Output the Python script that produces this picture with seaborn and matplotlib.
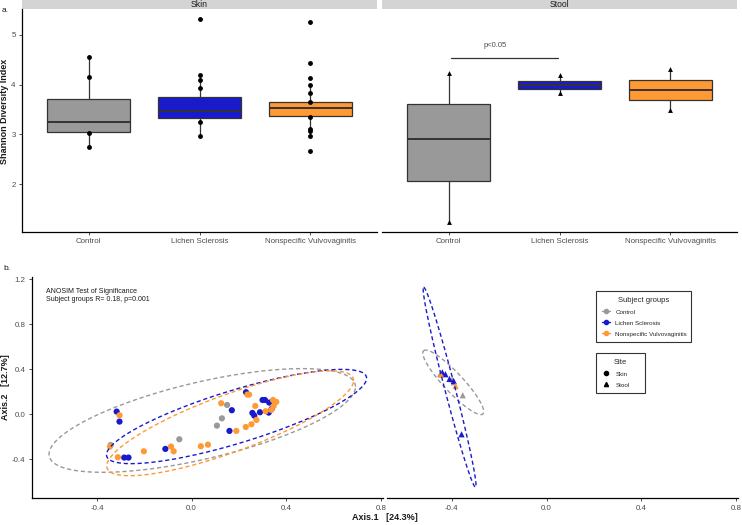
import numpy as np
import pandas as pd
import matplotlib
matplotlib.use('Agg')
import matplotlib.pyplot as plt
from matplotlib.lines import Line2D
from matplotlib.patches import Rectangle
import seaborn as sns

# ------------------ data ------------------
groups = ['Control', 'Lichen Sclerosis', 'Nonspecific Vulvovaginitis']
colors = ['#999999', '#1A1ACD', '#FF9933']
palette = dict(zip(groups, colors))

# panel a: box summaries (whisker low, q1, median, q3, whisker high)
skin_boxes = [[2.75, 3.04, 3.24, 3.72, 4.56],
              [2.97, 3.34, 3.47, 3.76, 4.20],
              [2.96, 3.37, 3.53, 3.65, 4.00]]
stool_boxes = [[1.25, 2.07, 2.91, 3.62, 4.23],
               [3.84, 3.91, 3.99, 4.07, 4.19],
               [3.50, 3.70, 3.90, 4.09, 4.31]]

# visible sample points (Shannon index)
skin_ctrl_pts = [4.56, 4.15, 3.02, 2.75]
skin_ls_pts = [5.32, 4.20, 4.10, 3.94, 3.24, 2.97]
skin_nv_pts = [5.25, 4.43, 4.14, 4.00, 3.83, 3.66, 3.35, 3.10, 3.07, 2.96, 2.67]
stool_ctrl_pts = [4.23, 1.25]
stool_ls_pts = [4.19, 3.84]
stool_nv_pts = [4.31, 3.50]

# panel b: PCoA coordinates, skin samples
skin_ctrl_x = [0.107, 0.128, 0.150, -0.052, -0.342]
skin_ctrl_y = [-0.101, -0.036, 0.083, -0.222, -0.273]
skin_ls_x = [-0.317, -0.305, -0.285, -0.267, -0.111, 0.160, 0.170, 0.230,
             0.257, 0.265, 0.289, 0.300, 0.310, 0.328, 0.326, 0.338]
skin_ls_y = [0.024, -0.065, -0.385, -0.385, -0.308, -0.148, 0.036, 0.196,
             0.012, -0.012, 0.018, 0.127, 0.127, 0.104, 0.015, 0.047]
skin_nv_x = [-0.305, -0.345, -0.312, -0.202, -0.087, -0.076, 0.039, 0.069,
             0.125, 0.189, 0.229, 0.236, 0.243, 0.253, 0.269, 0.274,
             0.313, 0.344, 0.358, 0.347, 0.337]
skin_nv_y = [-0.009, -0.287, -0.382, -0.329, -0.287, -0.329, -0.284, -0.270,
             0.098, -0.148, -0.113, 0.175, 0.175, -0.089, 0.074, -0.050,
             0.027, 0.127, 0.110, 0.074, 0.039]

# stool samples
stool_ctrl_x = [-0.449, -0.392, -0.354, -0.398]
stool_ctrl_y = [0.358, 0.284, 0.169, 0.311]
stool_ls_x = [-0.440, -0.427, -0.410, -0.392, -0.359]
stool_ls_y = [0.373, 0.356, 0.314, 0.296, -0.178]
stool_nv_x = [-0.446, -0.384]
stool_nv_y = [0.352, 0.252]

# 95% ellipses: centre and two conjugate half-diameters
skin_ell_groups = ['Control', 'Lichen Sclerosis', 'Nonspecific Vulvovaginitis']
skin_ell_center = [(0.045, -0.055), (0.190, -0.020), (0.163, -0.080)]
skin_ell_major = [(0.648, 0.300), (0.550, 0.340), (0.522, 0.380)]
skin_ell_minor = [(0.0, 0.350), (0.0, 0.245), (0.0, 0.270)]
stool_ell_groups = ['Control', 'Lichen Sclerosis']
stool_ell_center = [(-0.394, 0.284), (-0.4095, 0.240)]
stool_ell_major = [(-0.125, 0.281), (-0.1095, 0.889)]
stool_ell_minor = [(0.030, 0.058), (0.0212, 0.0116)]

# ------------------ style ------------------
sns.set_theme(style='ticks')
plt.rcParams['font.family'] = ['Liberation Sans', 'DejaVu Sans']
TICK_COL = '#4D4D4D'
EDGE = '#333333'

W, H = 742, 525
fig = plt.figure(figsize=(W / 100, H / 100), dpi=100)


def px_axes(left, top, right, bottom):
    return fig.add_axes([left / W, 1 - bottom / H, (right - left) / W, (bottom - top) / H])


def style_axes(ax, show_left=True):
    sns.despine(ax=ax)
    for s in ['bottom', 'left']:
        ax.spines[s].set_color('black')
        ax.spines[s].set_linewidth(0.9)
    if not show_left:
        ax.spines['left'].set_visible(False)
        ax.tick_params(axis='y', left=False, labelleft=False)
    ax.tick_params(length=2.5, width=0.6, colors=EDGE, labelcolor=TICK_COL,
                   labelsize=5.7, pad=2)
    ax.set_xlabel('')
    ax.set_ylabel('')
    ax.set_facecolor('white')


def add_strip(ax, label):
    h = 9 / (ax.get_position().height * H)
    ax.add_patch(Rectangle((0, 1), 1, h, transform=ax.transAxes, clip_on=False,
                           facecolor='#D4D4D4', edgecolor='none'))
    ax.text(0.5, 1 + h / 2, label, transform=ax.transAxes, ha='center',
            va='center', fontsize=6.2, color='#1A1A1A')


def box_panel(ax, boxes, pts, marker):
    stats = [dict(whislo=b[0], q1=b[1], med=b[2], q3=b[3], whishi=b[4]) for b in boxes]
    bp = ax.bxp(stats, positions=range(3), widths=0.75, patch_artist=True,
                showfliers=False, showcaps=False,
                boxprops=dict(edgecolor=EDGE, linewidth=0.9),
                medianprops=dict(color=EDGE, linewidth=1.4),
                whiskerprops=dict(color=EDGE, linewidth=0.9))
    for patch, c in zip(bp['boxes'], colors):
        patch.set_facecolor(c)
    df = pd.DataFrame({'group': np.repeat(groups, [len(p) for p in pts]),
                       'value': np.concatenate(pts)})
    sns.stripplot(data=df, x='group', y='value', order=groups, jitter=False,
                  color='black', marker=marker, size=3.5, linewidth=0,
                  ax=ax, zorder=4)
    ax.set_xlim(-0.6, 2.6)
    ax.set_ylim(1.04, 5.52)
    ax.set_xticks(range(3))
    ax.set_xticklabels(groups)


# ------------------ panel a ------------------
ax_skin = px_axes(22, 9, 377, 232)
box_panel(ax_skin, skin_boxes, [skin_ctrl_pts, skin_ls_pts, skin_nv_pts], 'o')
ax_skin.set_yticks([2, 3, 4, 5])
style_axes(ax_skin)
add_strip(ax_skin, 'Skin')

ax_stool = px_axes(382, 9, 737, 232)
box_panel(ax_stool, stool_boxes, [stool_ctrl_pts, stool_ls_pts, stool_nv_pts], '^')
style_axes(ax_stool, show_left=False)
add_strip(ax_stool, 'Stool')

# significance bar
ax_stool.plot([0.02, 0.985], [4.53, 4.53], color=EDGE, lw=0.9)
ax_stool.text(0.42, 4.79, 'p<0.05', ha='center', va='center', fontsize=5.5, color=TICK_COL)

fig.text(5 / W, 1 - 111 / H, 'Shannon Diversity Index', rotation=90, ha='center',
         va='center', fontsize=6.5, fontweight='bold', color='#1A1A1A')
fig.text(2 / W, 1 - 10 / H, 'a.', ha='left', va='center', fontsize=6, color='#1A1A1A')

# ------------------ panel b ------------------
def ellipse(ax, center, major, minor, color):
    t = np.linspace(0, 2 * np.pi, 300)
    x = center[0] + major[0] * np.cos(t) + minor[0] * np.sin(t)
    y = center[1] + major[1] * np.cos(t) + minor[1] * np.sin(t)
    ax.plot(x, y, color=color, lw=1.0, ls=(0, (3, 2)), zorder=3)


def pcoa_panel(ax, xs, ys, marker, ell_groups, ell_c, ell_a, ell_b):
    df = pd.DataFrame({'x': np.concatenate(xs), 'y': np.concatenate(ys),
                       'group': np.repeat(groups, [len(v) for v in xs])})
    sns.scatterplot(data=df, x='x', y='y', hue='group', palette=palette,
                    hue_order=groups, marker=marker, s=20, linewidth=0,
                    legend=False, ax=ax, zorder=2)
    for g, c, a, b in zip(ell_groups, ell_c, ell_a, ell_b):
        ellipse(ax, c, a, b, palette[g])
    ax.set_xlim(-0.675, 0.808)
    ax.set_ylim(-0.747, 1.223)
    ax.set_xticks([-0.4, 0.0, 0.4, 0.8])
    ax.set_xticklabels(['-0.4', '0.0', '0.4', '0.8'])


ax_b1 = px_axes(32, 276.7, 382.7, 498.3)
pcoa_panel(ax_b1, [skin_ctrl_x, skin_ls_x, skin_nv_x],
           [skin_ctrl_y, skin_ls_y, skin_nv_y], 'o',
           skin_ell_groups, skin_ell_center, skin_ell_major, skin_ell_minor)
ax_b1.set_yticks([-0.4, 0.0, 0.4, 0.8, 1.2])
ax_b1.set_yticklabels(['-0.4', '0.0', '0.4', '0.8', '1.2'])
style_axes(ax_b1)
ax_b1.text(0.04, 0.95, 'ANOSIM Test of Significance\nSubject groups R= 0.18, p=0.001',
           transform=ax_b1.transAxes, ha='left', va='top', fontsize=5,
           color='#1A1A1A', linespacing=1.3)

ax_b2 = px_axes(386.7, 276.7, 738, 498.3)
pcoa_panel(ax_b2, [stool_ctrl_x, stool_ls_x, stool_nv_x],
           [stool_ctrl_y, stool_ls_y, stool_nv_y], '^',
           stool_ell_groups, stool_ell_center, stool_ell_major, stool_ell_minor)
style_axes(ax_b2, show_left=False)

fig.text(385 / W, 1 - 518 / H, 'Axis.1   [24.3%]', ha='center', va='center',
         fontsize=6.5, fontweight='bold', color='#1A1A1A')
fig.text(6 / W, 1 - 387 / H, 'Axis.2   [12.7%]', rotation=90, ha='center',
         va='center', fontsize=6.5, fontweight='bold', color='#1A1A1A')
fig.text(3 / W, 1 - 268 / H, 'b.', ha='left', va='center', fontsize=6, color='#1A1A1A')

# legends
leg_kw = dict(loc='upper left', mode='expand', fontsize=4.5, title_fontsize=5.5,
              frameon=True, fancybox=False, framealpha=1, edgecolor=EDGE,
              handlelength=1.4, borderpad=0.9, labelspacing=0.9, borderaxespad=0)
grp_handles = [Line2D([0], [0], color=c, lw=1.0, marker='o', markersize=3) for c in colors]
leg1 = fig.legend(grp_handles, groups, title='Subject groups',
                  bbox_to_anchor=(596 / W, 1 - 291 / H, 95 / W, 0), **leg_kw)
leg1.get_frame().set_linewidth(0.8)
site_handles = [Line2D([0], [0], color='black', lw=0, marker='o', markersize=3),
                Line2D([0], [0], color='black', lw=0, marker='^', markersize=3)]
leg2 = fig.legend(site_handles, ['Skin', 'Stool'], title='Site',
                  bbox_to_anchor=(596 / W, 1 - 353 / H, 49 / W, 0), **leg_kw)
leg2.get_frame().set_linewidth(0.8)

fig.savefig('out.png', dpi=100, facecolor='white')
